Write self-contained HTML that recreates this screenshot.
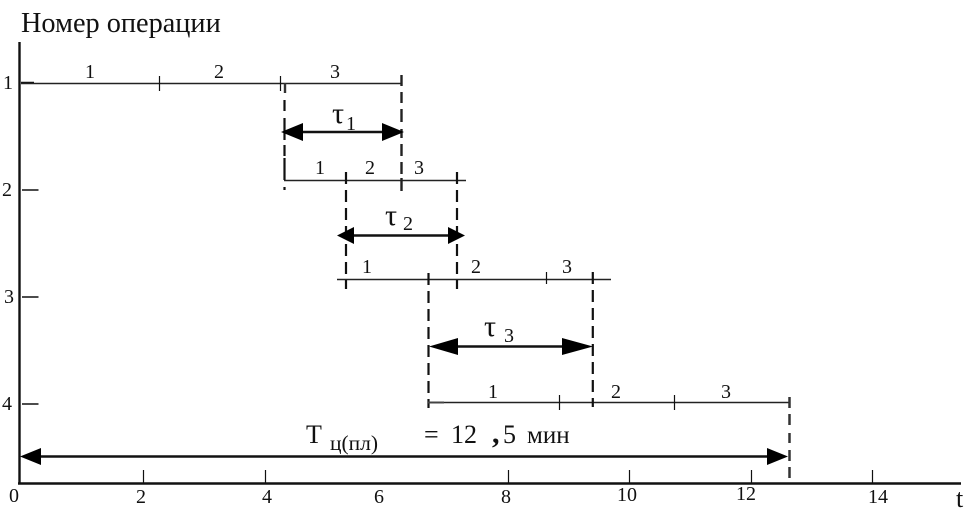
<!DOCTYPE html>
<html lang="ru">
<head>
<meta charset="utf-8">
<style>
html,body{margin:0;padding:0;background:#fff;width:966px;height:518px;overflow:hidden}
svg{display:block}
text{font-family:"Liberation Serif","Noto Serif CJK SC",serif;fill:#111}
</style>
</head>
<body>
<svg width="966" height="518" viewBox="0 0 966 518" xmlns="http://www.w3.org/2000/svg">
<rect width="966" height="518" fill="#fff"/>
<!-- axes -->
<g stroke="#111" fill="none">
<path d="M19.500 42V484.500M18 483.500H961" stroke-width="2.400"/>
<!-- x ticks -->
<path d="M143.500 470V483M265.500 470V483M508.500 470V483M629.500 470V483M751.500 470V483M872.500 470V483" stroke-width="1.200"/>
<!-- y ticks -->
<path d="M21 82.500H34M22 190H38.500M22 297H38.500M22 404H38.500" stroke-width="1.400"/>
<!-- operation lines -->
<path d="M21 83.500H402M284 180.500H466M337 279.500H611M428 402.500H789" stroke="#222" stroke-width="1.400"/>
<!-- small ticks -->
<path d="M159.500 76V91M280.500 76V91M546.500 272V284M559.500 395V410M674.500 395V410" stroke-width="1.200"/>
<!-- dashes -->
<g stroke-width="2.200">
<path d="M285 83V93" stroke-width="2.400" stroke="#333"/>
<path d="M284.500 100V111M284.500 118V140M284.500 145V156M284.500 158V180M284.500 187V190"/>
<path d="M401.500 75V86M401.500 92V103M401.500 109V122M401.500 129V138M401.500 144V156M401.500 162V174M401.500 178V191" stroke="#222" stroke-width="2.400"/>
<path d="M346 172V289" stroke-dasharray="12 6"/>
<path d="M457 172V289" stroke-dasharray="12 6"/>
<path d="M428.500 272V408" stroke-dasharray="12 6" stroke-dashoffset="-1"/>
<path d="M592.800 272V407" stroke-dasharray="12 6"/>
<path d="M789.500 397V408M789.500 414V425M789.500 433V443M789.500 450V461M789.500 467V478" stroke="#333" stroke-width="2.500"/>
</g>
<path d="M428 402.500H444" stroke="#444" stroke-width="2" fill="none"/>
<!-- arrow shafts -->
<path d="M295 132H392M350 235.500H452M445 346.500H578M35 456.500H774" stroke="#111" stroke-width="2.600" fill="none"/>
</g>
<!-- arrow heads -->
<g fill="#000">
<path d="M281 132L303 123V141ZM404 132L382 123V141Z"/>
<path d="M337 235.500L354 227V244ZM465 235.500L448 227V244Z"/>
<path d="M429 346.500L458 338V355ZM593 346.500L562 338V355Z"/>
<path d="M20 456.500L41 448V465ZM788 456.500L767 448V465Z"/>
</g>
<!-- labels -->
<text x="21" y="32" font-size="28.300">Номер операции</text>
<g font-size="20">
<text x="3" y="89">1</text>
<text x="2" y="196">2</text>
<text x="4" y="303">3</text>
<text x="2" y="410">4</text>
<text x="9" y="502">0</text>
<text x="136" y="503">2</text>
<text x="262" y="503">4</text>
<text x="374" y="503">6</text>
<text x="501" y="503">8</text>
<text x="617" y="501">10</text>
<text x="736" y="500">12</text>
<text x="868" y="503">14</text>
</g>
<g font-size="20">
<text x="85" y="78">1</text>
<text x="214" y="78">2</text>
<text x="330" y="78">3</text>
<text x="315" y="174">1</text>
<text x="365" y="174">2</text>
<text x="414" y="174">3</text>
<text x="362" y="273">1</text>
<text x="471" y="273">2</text>
<text x="562" y="273">3</text>
<text x="488" y="398">1</text>
<text x="611" y="398">2</text>
<text x="721" y="398">3</text>
</g>
<text x="956" y="507" font-size="26">t</text>
<text x="332" y="123" font-size="30">τ</text>
<text x="346" y="130" font-size="20">1</text>
<text x="385" y="225" font-size="30">τ</text>
<text x="403" y="230" font-size="20">2</text>
<text x="484" y="336" font-size="30">τ</text>
<text x="504" y="342" font-size="20">3</text>
<text x="306" y="443" font-size="26">Т</text>
<text x="330" y="450" font-size="21.500">ц(пл)</text>
<text x="424" y="443" font-size="26">=</text>
<text x="451" y="443" font-size="26">12</text>
<text x="492" y="443" font-size="30" font-weight="bold">,</text>
<text x="503" y="443" font-size="26">5</text>
<text x="527" y="443" font-size="25">мин</text>
</svg>
</body>
</html>
